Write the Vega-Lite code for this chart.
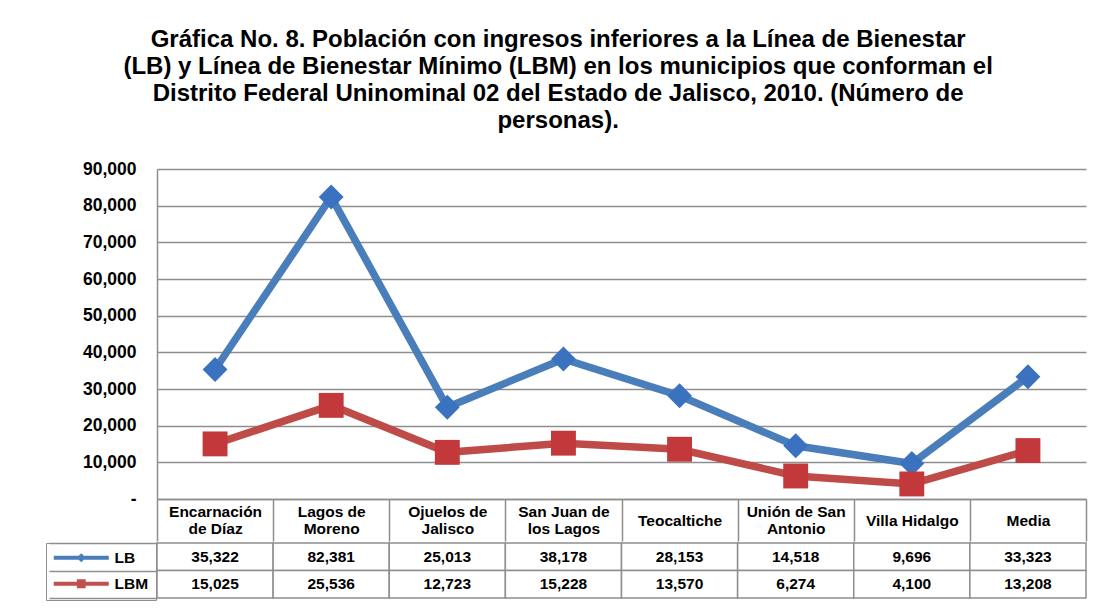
{
  "$schema": "https://vega.github.io/schema/vega-lite/v6.json",
  "background": "white",
  "padding": {"left": 45, "top": 28, "right": 5, "bottom": 5},
  "title": {
    "text": [
      "Gráfica No. 8. Población con ingresos inferiores a la  Línea de Bienestar",
      "(LB) y Línea de Bienestar Mínimo (LBM) en los municipios que conforman el",
      "Distrito Federal Uninominal 02 del Estado de Jalisco, 2010. (Número de",
      "personas)."
    ],
    "font": "Liberation Sans",
    "fontSize": 24,
    "fontWeight": "bold",
    "lineHeight": 27,
    "anchor": "middle",
    "offset": 27,
    "color": "black",
    "dx": -8
  },
  "datasets": {
    "d": [
      {"municipio": "Encarnación\nde Díaz", "serie": "LB", "valor": 35322},
      {"municipio": "Encarnación\nde Díaz", "serie": "LBM", "valor": 15025},
      {"municipio": "Lagos de\nMoreno", "serie": "LB", "valor": 82381},
      {"municipio": "Lagos de\nMoreno", "serie": "LBM", "valor": 25536},
      {"municipio": "Ojuelos de\nJalisco", "serie": "LB", "valor": 25013},
      {"municipio": "Ojuelos de\nJalisco", "serie": "LBM", "valor": 12723},
      {"municipio": "San Juan de\nlos Lagos", "serie": "LB", "valor": 38178},
      {"municipio": "San Juan de\nlos Lagos", "serie": "LBM", "valor": 15228},
      {"municipio": "Teocaltiche", "serie": "LB", "valor": 28153},
      {"municipio": "Teocaltiche", "serie": "LBM", "valor": 13570},
      {"municipio": "Unión de San\nAntonio", "serie": "LB", "valor": 14518},
      {"municipio": "Unión de San\nAntonio", "serie": "LBM", "valor": 6274},
      {"municipio": "Villa Hidalgo", "serie": "LB", "valor": 9696},
      {"municipio": "Villa Hidalgo", "serie": "LBM", "valor": 4100},
      {"municipio": "Media", "serie": "LB", "valor": 33323},
      {"municipio": "Media", "serie": "LBM", "valor": 13208}
    ]
  },
  "data": {"name": "d"},
  "spacing": 0,
  "resolve": {
    "scale": {"shape": "independent", "color": "independent"},
    "legend": {"color": "independent", "shape": "independent"}
  },
  "vconcat": [
    {
      "width": 929,
      "height": 330,
      "encoding": {
        "x": {
          "field": "municipio", "type": "nominal", "sort": null,
          "scale": {"paddingInner": 0, "paddingOuter": 0},
          "axis": {
            "title": null,
            "labelExpr": "split(datum.label, '\\n')",
            "labelAngle": 0,
            "labelBaseline": "middle",
            "labelPadding": {"condition": {"test": "indexof(datum.label, '\\n') >= 0", "value": -30}, "value": -21},
            "labelLineHeight": 17,
            "labelFont": "Liberation Sans",
            "labelFontSize": 15.5,
            "labelFontWeight": "bold",
            "labelColor": "black",
            "labelOverlap": false,
            "labelLimit": 300,
            "tickBand": "extent",
            "tickSize": 42,
            "tickColor": "#8e8e8e",
            "tickWidth": 1.5,
            "domainColor": "#8e8e8e",
            "domainWidth": 1.5,
            "grid": false
          }
        },
        "y": {
          "field": "valor", "type": "quantitative",
          "scale": {"domain": [0, 90000]},
          "axis": {
            "title": null,
            "values": [0, 10000, 20000, 30000, 40000, 50000, 60000, 70000, 80000, 90000],
            "format": ",.0f",
            "labelExpr": "datum.value === 0 ? '-' : datum.label",
            "grid": true,
            "gridColor": "#8e8e8e",
            "gridWidth": 1.5,
            "domain": true,
            "domainColor": "#8e8e8e",
            "domainWidth": 1.5,
            "ticks": false,
            "labelPadding": 21,
            "labelFont": "Liberation Sans",
            "labelFontWeight": "bold",
            "labelFontSize": 17.5,
            "labelColor": "black",
            "minExtent": 108,
            "maxExtent": 108
          }
        }
      },
      "layer": [
        {
          "mark": {"type": "line", "strokeWidth": 7.5},
          "encoding": {
            "color": {
              "field": "serie", "type": "nominal",
              "scale": {"domain": ["LB", "LBM"], "range": ["#4a7ebb", "#be4b48"]},
              "legend": null
            }
          }
        },
        {
          "mark": {"type": "point", "filled": true, "opacity": 1, "strokeWidth": 0, "size": 620},
          "encoding": {
            "fill": {
              "field": "serie", "type": "nominal",
              "scale": {"domain": ["LB", "LBM"], "range": ["#3b72c0", "#c3383a"]},
              "legend": null
            },
            "shape": {
              "field": "serie", "type": "nominal",
              "scale": {"domain": ["LB", "LBM"], "range": ["diamond", "square"]},
              "legend": null
            }
          }
        }
      ]
    },
    {
      "width": 929,
      "height": 55,
      "encoding": {
        "x": {
          "field": "municipio", "type": "nominal", "sort": null,
          "scale": {"paddingInner": 0, "paddingOuter": 0},
          "axis": null
        },
        "y": {
          "field": "serie", "type": "nominal",
          "scale": {"domain": ["LB", "LBM"], "paddingInner": 0, "paddingOuter": 0},
          "axis": {
            "title": null,
            "labels": false,
            "domain": false,
            "ticks": true,
            "tickBand": "extent",
            "tickSize": 108,
            "tickColor": "#8e8e8e",
            "tickWidth": 1.5,
            "grid": false
          }
        }
      },
      "layer": [
        {
          "mark": {"type": "rect", "fill": "white", "stroke": "#8e8e8e", "strokeWidth": 1.5}
        },
        {
          "mark": {"type": "text", "font": "Liberation Sans", "fontSize": 15.5, "fontWeight": "bold", "color": "black"},
          "encoding": {
            "text": {"field": "valor", "type": "quantitative", "format": ","}
          }
        },
        {
          "mark": {"type": "point", "filled": true, "opacity": 0},
          "encoding": {
            "color": {
              "field": "serie", "type": "nominal",
              "scale": {"domain": ["LB", "LBM"], "range": ["#4a7ebb", "#c0504d"]},
              "legend": {
                "orient": "left", "title": null, "offset": -108, "padding": 7,
                "rowPadding": 9, "labelOffset": 46, "symbolSize": 196,
                "symbolOpacity": 1, "symbolStrokeWidth": 0,
                "labelFont": "Liberation Sans", "labelFontSize": 15.5,
                "labelFontWeight": "bold", "labelColor": "black",
                "strokeColor": "#8e8e8e"
              }
            },
            "shape": {
              "field": "serie", "type": "nominal",
              "scale": {
                "domain": ["LB", "LBM"],
                "range": [
                  "M-1,-0.29H6.86V0.29H-1Z M2.93,-0.66L3.59,0L2.93,0.66L2.27,0Z",
                  "M-1,-0.29H6.86V0.29H-1Z M2.3,-0.64H3.56V0.64H2.3Z"
                ]
              },
              "legend": {
                "orient": "left", "title": null, "offset": -108, "padding": 7,
                "rowPadding": 9, "labelOffset": 46, "symbolSize": 196,
                "symbolOpacity": 1, "symbolStrokeWidth": 0,
                "labelFont": "Liberation Sans", "labelFontSize": 15.5,
                "labelFontWeight": "bold", "labelColor": "black",
                "strokeColor": "#8e8e8e"
              }
            }
          }
        }
      ]
    }
  ],
  "config": {
    "view": {"stroke": null},
    "font": "Liberation Sans"
  }
}
